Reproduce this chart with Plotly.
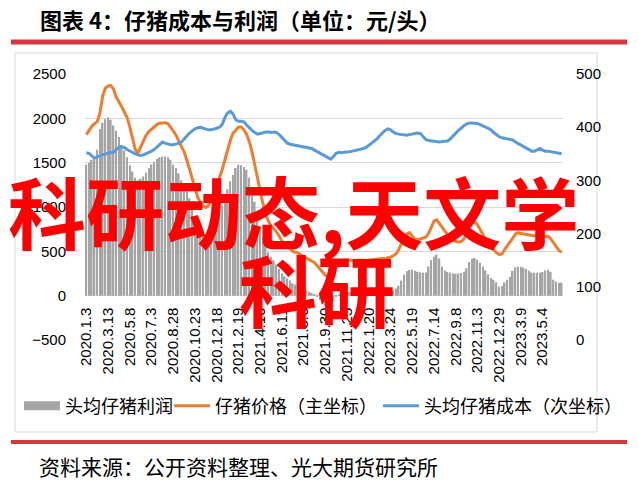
import plotly.graph_objects as go

# ---------------- data ----------------
tick_labels = ["2020.1.3", "2020.3.13", "2020.5.8", "2020.7.3", "2020.8.28",
               "2020.10.23", "2020.12.18", "2021.2.19", "2021.4.16", "2021.6.11",
               "2021.8.6", "2021.9.30", "2021.11.25", "2022.1.20", "2022.3.24",
               "2022.5.19", "2022.7.14", "2022.9.8", "2022.11.3", "2022.12.29",
               "2023.3.9", "2023.5.4"]

# 头均仔猪利润 (left axis, bars)
profit = [
    1478, 1500, 1530, 1560, 1647, 1880, 1950, 1990,
    2008, 1985, 1920, 1860, 1790, 1700, 1640, 1560,
    1470, 1400, 1330, 1305, 1320, 1345, 1390, 1440,
    1480, 1510, 1540, 1560, 1568, 1570, 1560, 1534,
    1478, 1440, 1380, 1300, 1250, 1200, 1100, 990,
    880, 790, 720, 680, 670, 690, 730, 790,
    860, 930, 1020, 1110, 1200, 1290, 1360, 1440,
    1478, 1470, 1450, 1420, 1330, 1200, 1060, 920,
    790, 660, 560, 490, 440, 400, 350, 300,
    250, 220, 195, 170, 140, 125, 115, 95,
    77, 58, 44, 30, 18, -14, -52, -88,
    -115, -132, -120, -65, -10, 20, 35, 40,
    45, 40, 35, 38, 40, 38, 35, 32,
    30, 32, 35, 34, 31, 29, 26, 28,
    40, 59, 80, 110, 170, 240, 275, 290,
    293, 280, 270, 262, 259, 262, 330, 400,
    440, 462, 420, 330, 285, 268, 259, 250,
    248, 248, 255, 270, 310, 380, 420, 425,
    406, 372, 330, 285, 240, 200, 180, 150,
    100, 110, 150, 180, 214, 280, 320, 327,
    327, 316, 300, 280, 262, 259, 259, 259,
    268, 285, 293, 270, 180, 160, 147, 147,
]

# 仔猪价格 (left axis, orange line)
price = [
    1816, 1870, 1910, 1940, 1963, 2060, 2250, 2340,
    2365, 2369, 2330, 2240, 2190, 2130, 2070, 2010,
    1900, 1780, 1650, 1610, 1680, 1760, 1810, 1850,
    1880, 1910, 1930, 1945, 1950, 1950, 1940, 1905,
    1860, 1810, 1750, 1690, 1620, 1530, 1420, 1310,
    1200, 1110, 1050, 1010, 995, 1020, 1080, 1160,
    1250, 1330, 1420, 1530, 1650, 1750, 1830, 1870,
    1900, 1905, 1870, 1820, 1740, 1620, 1470, 1320,
    1190, 1040, 920, 840, 790, 760, 720, 670,
    615, 590, 560, 530, 500, 490, 480, 460,
    440, 420, 405, 390, 375, 340, 300, 260,
    230, 210, 220, 280, 340, 380, 395, 400,
    405, 402, 398, 402, 405, 402, 400, 398,
    400, 405, 410, 412, 415, 418, 420, 425,
    435, 450, 470, 520, 590, 650, 695, 710,
    670, 635, 632, 640, 645, 660, 700, 780,
    840, 857, 820, 770, 730, 690, 635, 620,
    610, 605, 610, 640, 690, 750, 815, 835,
    800, 745, 690, 630, 580, 545, 510, 485,
    465, 470, 520, 560, 600, 650, 695, 710,
    700, 695, 690, 685, 680, 672, 665, 665,
    665, 668, 670, 640, 600, 550, 510, 490,
]

# 头均仔猪成本 (right axis, blue line)
cost = [
    352, 351, 346, 342, 344, 347, 348, 350,
    351, 352, 353, 358, 362, 363, 362, 358,
    355, 353, 350, 348, 347, 348, 350, 352,
    355, 358, 363, 368, 372, 370, 368, 367,
    367, 368, 370, 372, 378, 384, 389, 393,
    397, 399, 400, 398, 396, 395, 395, 396,
    398, 400, 405, 418, 427, 430, 425, 414,
    411, 411, 410, 404, 398, 394, 390, 387,
    388, 390, 391, 391, 390, 391, 390, 386,
    380, 374, 370, 368, 367, 367, 366, 364,
    363, 362, 361, 360, 357, 354, 352, 348,
    345, 342, 340, 345, 351, 353, 352, 353,
    353, 354, 355, 356, 357, 358, 360, 362,
    366, 369, 373, 378, 384, 389, 394, 397,
    395, 391, 388, 387, 386, 386, 385, 386,
    387, 388, 389, 388, 382, 377, 375, 374,
    373, 372, 372, 373, 373, 374, 378, 384,
    390, 394, 398, 403, 406, 408, 408, 408,
    407, 405, 402, 400, 398, 395, 390, 386,
    382, 380, 379, 378, 378, 376, 372, 369,
    367, 364, 360, 357, 355, 355, 357, 360,
    357, 355, 355, 354, 353, 352, 351, 350,
]

N = len(price)
x_idx = list(range(N))
tick_pos = list(range(0, 8 * len(tick_labels), 8))

# ---------------- layout helpers ----------------
W, H = 639, 482
ML, MR, MT, MB = 85, 76, 74, 142
PW = W - ML - MR
PH = H - MT - MB


def px(x):
    return (x - ML) / PW


def py(y):
    return (H - MB - y) / PH


CJK = "Noto Sans CJK SC"
NUM = "Liberation Sans, Arial, sans-serif"

fig = go.Figure()
fig.add_trace(go.Bar(x=x_idx, y=profit, name="头均仔猪利润",
                     marker=dict(color="#A5A5A5", line_width=0),
                     showlegend=False))
# legend swatch for the bars
fig.add_trace(go.Scatter(x=[None], y=[None], mode="lines", name="头均仔猪利润",
                         line=dict(color="#A5A5A5", width=9), legend="legend"))
fig.add_trace(go.Scatter(x=x_idx, y=price, mode="lines", name="仔猪价格（主坐标）",
                         line=dict(color="#ED7D31", width=3), legend="legend2"))
fig.add_trace(go.Scatter(x=x_idx, y=cost, mode="lines", name="头均仔猪成本（次坐标）",
                         line=dict(color="#5B9BD5", width=3), yaxis="y2",
                         legend="legend3"))

leg_common = dict(orientation="h", xanchor="left", yanchor="middle",
                  font=dict(family=CJK, size=18, color="#000000"),
                  bgcolor="rgba(0,0,0,0)", borderwidth=0, itemwidth=36)

fig.update_layout(
    width=W, height=H,
    margin=dict(l=ML, r=MR, t=MT, b=MB, pad=0),
    paper_bgcolor="white", plot_bgcolor="white",
    bargap=0.4,
    showlegend=True,
    legend=dict(x=px(19), y=py(406), **leg_common),
    legend2=dict(x=px(169), y=py(406), **leg_common),
    legend3=dict(x=px(378), y=py(406), **leg_common),
    xaxis=dict(range=[-0.5, N - 0.5], tickmode="array", tickvals=tick_pos,
               ticktext=tick_labels, tickangle=-90, showgrid=False,
               zeroline=False, showline=False, ticks="",
               anchor="free", position=500 / 3000,
               tickfont=dict(family=NUM, size=15, color="#000000"),
               ticklabelstandoff=8),
    yaxis=dict(range=[-500, 2500], tick0=0, dtick=500, showgrid=True,
               gridcolor="#D9D9D9", gridwidth=1, zeroline=False,
               showline=False, ticks="",
               tickfont=dict(family=NUM, size=15, color="#000000"),
               ticklabelstandoff=18),
    yaxis2=dict(range=[0, 500], tick0=0, dtick=100, overlaying="y",
                side="right", showgrid=False, zeroline=False, showline=False,
                ticks="", tickfont=dict(family=NUM, size=15, color="#000000"),
                ticklabelstandoff=12),
    shapes=[
        dict(type="line", xref="paper", yref="paper", x0=px(11), x1=px(627),
             y0=py(42), y1=py(42), line=dict(color="#D7363C", width=5)),
        dict(type="line", xref="paper", yref="paper", x0=px(11), x1=px(627),
             y0=py(442), y1=py(442), line=dict(color="#D7363C", width=4)),
        dict(type="rect", xref="paper", yref="paper", x0=px(15), x1=px(597),
             y0=py(53), y1=py(432), line=dict(color="#D9D9D9", width=1),
             layer="below"),
    ],
    annotations=[
        dict(text="<b>图表 4：仔猪成本与利润（单位：元/头）</b>", xref="paper",
             yref="paper", x=px(38), y=py(19), xanchor="left", yanchor="middle",
             showarrow=False, font=dict(family=CJK, size=22, color="#000000")),
        dict(text="资料来源：公开资料整理、光大期货研究所", xref="paper",
             yref="paper", x=px(37), y=py(466), xanchor="left", yanchor="middle",
             showarrow=False, font=dict(family=CJK, size=21, color="#000000")),
        dict(text="<b>科研动态,天文学</b>", xref="paper", yref="paper",
             x=px(293), y=py(210), xanchor="center", yanchor="middle",
             showarrow=False, font=dict(family=CJK, size=78, color="#FF0000")),
        dict(text="<b>科研</b>", xref="paper", yref="paper",
             x=px(317), y=py(288), xanchor="center", yanchor="middle",
             showarrow=False, font=dict(family=CJK, size=78, color="#FF0000")),
    ],
)

fig.write_html(
    "out.html",
    config={"displayModeBar": False},
    post_script="document.body.style.margin='0';document.body.style.padding='0';"
                "document.documentElement.style.overflow='hidden';",
)
